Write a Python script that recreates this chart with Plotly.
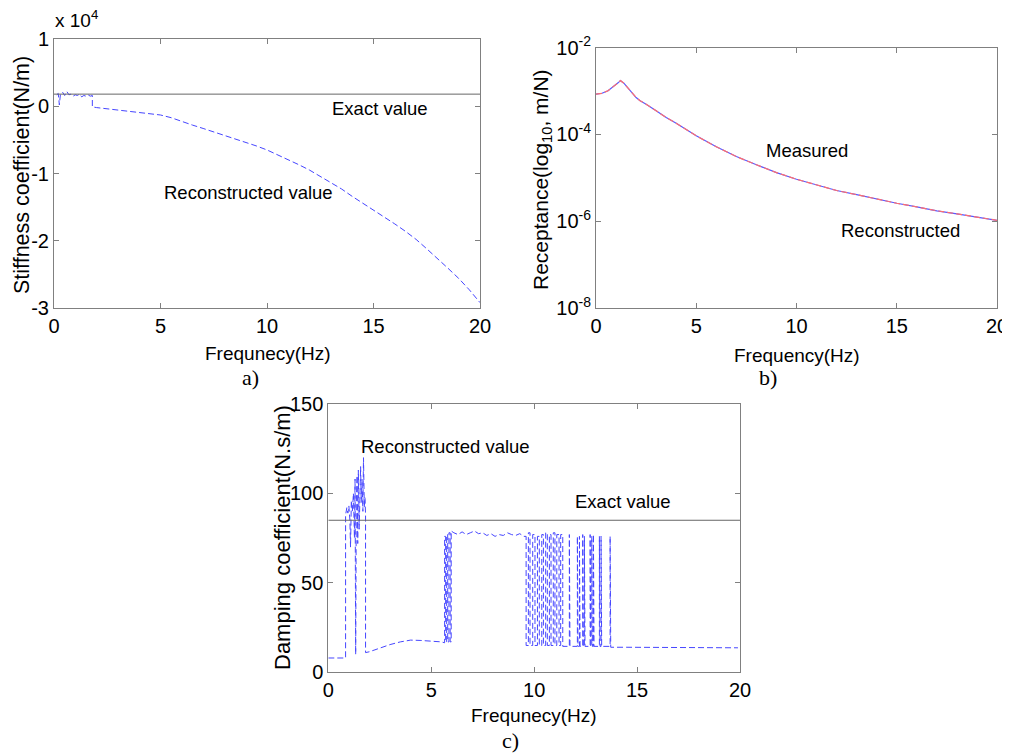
import plotly.graph_objects as go

# ---------------- data: a) stiffness coefficient (x 1e4 N/m) ----------------
stiff_freq = [0.13, 0.2, 0.25, 0.3, 0.4, 0.5, 0.6, 0.7, 0.8, 0.9, 1.0, 1.1, 1.2, 1.3, 1.4,
              1.5, 1.6, 1.7, 1.8, 1.8, 2.0, 2.5, 3.0, 3.5, 4.0, 4.5, 5.0, 5.5, 6.0, 6.5, 7.0,
              7.5, 8.0, 8.5, 9.0, 9.5, 10.0, 10.5, 11.0, 11.5, 12.0, 12.5, 13.0, 13.5, 14.0,
              14.5, 15.0, 15.5, 16.0, 16.5, 17.0, 17.5, 18.0, 18.5, 19.0, 19.5, 20.0]
stiff_recon = [0.17, 0.19, 0.02, 0.17, 0.21, 0.16, 0.22, 0.17, 0.18, 0.15, 0.17, 0.16, 0.18, 0.14, 0.16,
               0.15, 0.17, 0.15, 0.16, -0.01, -0.02, -0.04, -0.06, -0.075, -0.09, -0.11, -0.13, -0.17, -0.23, -0.28, -0.33,
               -0.38, -0.43, -0.48, -0.53, -0.59, -0.65, -0.72, -0.80, -0.87, -0.95, -1.04, -1.13, -1.23, -1.34,
               -1.44, -1.54, -1.64, -1.75, -1.86, -1.98, -2.12, -2.26, -2.41, -2.56, -2.73, -2.92]
stiff_exact = 0.18
stiff_yticks = [1, 0, -1, -2, -3]
stiff_yticktext = ["1", "0", "-1", "-2", "-3"]

# ---------------- data: b) receptance (m/N) ----------------
recept_freq = [0, 0.3, 0.6, 0.9, 1.1, 1.22, 1.4, 1.6, 1.8, 2.0, 2.2, 2.5, 3.0, 3.5, 4.0,
               5, 6, 7, 8, 9, 10, 11, 12, 13, 14, 15, 16, 17, 18, 19, 20]
recept_measured = [8.5e-4, 8.9e-4, 1.02e-3, 1.29e-3, 1.55e-3, 1.74e-3, 1.51e-3, 1.17e-3, 9.1e-4,
                   7.1e-4, 6.0e-4, 5.0e-4, 3.5e-4, 2.45e-4, 1.82e-4, 9.3e-5, 5.2e-5, 3.1e-5, 2.0e-5,
                   1.32e-5, 9.3e-6, 6.8e-6, 5.1e-6, 4.1e-6, 3.2e-6, 2.6e-6, 2.14e-6, 1.74e-6,
                   1.48e-6, 1.26e-6, 1.05e-6]
recept_recon = [8.5e-4, 8.9e-4, 1.02e-3, 1.29e-3, 1.55e-3, 1.74e-3, 1.51e-3, 1.17e-3, 9.1e-4,
                7.1e-4, 6.0e-4, 5.0e-4, 3.5e-4, 2.45e-4, 1.82e-4, 9.3e-5, 5.2e-5, 3.1e-5, 2.0e-5,
                1.32e-5, 9.3e-6, 6.8e-6, 5.1e-6, 4.1e-6, 3.2e-6, 2.6e-6, 2.14e-6, 1.74e-6,
                1.48e-6, 1.26e-6, 1.05e-6]
recept_yticks = [1e-8, 1e-6, 1e-4, 1e-2]
recept_yticktext = ["10<sup>-8</sup>", "10<sup>-6</sup>", "10<sup>-4</sup>", "10<sup>-2</sup>"]

# ---------------- data: c) damping coefficient (N.s/m) ----------------
damp_freq = [0, 0.84, 0.84, 0.9, 0.95, 1.0, 1.05, 1.08, 1.12, 1.17, 1.22, 1.27, 1.30, 1.33, 1.36,
             1.40, 1.43, 1.46, 1.50, 1.53, 1.57, 1.60, 1.64, 1.68, 1.71, 1.75, 1.78, 1.81, 1.81,
             2.0, 2.5, 3.0, 3.5, 4.0, 4.5, 5.0, 5.5, 5.65,
             5.65, 5.70, 5.70, 5.75, 5.75, 5.80, 5.80, 5.86, 5.86, 5.92, 5.92, 5.97, 5.97,
             6.1, 6.3, 6.5, 6.7, 6.9, 7.1, 7.3, 7.5, 7.7, 7.9, 8.1, 8.3, 8.5, 8.7, 8.9, 9.1, 9.3, 9.5,
             9.61, 9.61, 9.72, 9.72, 9.80, 9.80, 9.93, 9.93, 10.04, 10.04, 10.16, 10.16, 10.25, 10.25,
             10.37, 10.37, 10.45, 10.45, 10.56, 10.56, 10.64, 10.64, 10.74, 10.74, 10.82, 10.82,
             10.93, 10.93, 11.01, 11.01, 11.10, 11.10, 11.21, 11.21, 11.29, 11.29, 11.39, 11.39,
             11.71, 11.71, 11.74, 11.74, 12.10, 12.10, 12.13, 12.13, 12.20, 12.20, 12.23, 12.23,
             12.36, 12.36, 12.39, 12.39, 12.44, 12.44, 12.47, 12.47, 12.72, 12.72, 12.75, 12.75,
             12.80, 12.80, 12.83, 12.83, 12.88, 12.88, 12.91, 12.91, 13.17, 13.17, 13.20, 13.20,
             13.25, 13.25, 13.28, 13.28, 13.69, 13.69, 13.72, 13.72,
             14.5, 15.0, 15.5, 16.0, 16.5, 17.0, 17.5, 18.0, 18.5, 19.0, 19.5, 19.9]
damp_recon = [8, 8, 88, 92, 89, 93, 85, 70, 96, 90, 100, 75, 108, 10, 95,
              110, 72, 113, 80, 108, 115, 95, 108, 90, 120, 92, 98, 88, 11,
              11.5, 13.5, 15.5, 17, 18, 17.8, 17.5, 17, 16.5,
              76, 76, 17, 17, 77, 77, 17, 17, 78, 78, 17, 17, 79,
              78, 77, 78.5, 77, 78, 79, 77.5, 78, 76.5, 77.5, 76, 77, 76.5, 78, 77, 76.5, 77.5, 76,
              76, 15, 15, 78, 78, 15, 15, 77, 77, 15, 15, 76, 76, 15,
              15, 77, 77, 15, 15, 78, 78, 15, 15, 77, 77, 15,
              15, 78, 78, 15, 15, 77, 77, 15, 15, 77, 77, 14.5,
              14.5, 77, 77, 14.5, 14.5, 76, 76, 14.5, 14.5, 76, 76, 14.5,
              14.5, 77, 77, 14.5, 14.5, 76, 76, 14.5, 14.5, 77, 77, 14.5,
              14.5, 76, 76, 14.5, 14.5, 77, 77, 14.5, 14.5, 76, 76, 14.5,
              14.5, 76, 76, 14.5, 14.5, 76, 76, 14,
              14, 14, 13.8, 14, 13.7, 14, 13.6, 14, 13.8, 13.6, 13.8, 13.7]
damp_exact = 85
damp_yticks = [0, 50, 100, 150]
damp_yticktext = ["0", "50", "100", "150"]

freq_ticks = [0, 5, 10, 15, 20]
freq_ticktext = ["0", "5", "10", "15", "20"]

# ---------------- styling ----------------
REG = "Liberation Sans, Arial, sans-serif"
SERIF = "Liberation Serif, Times New Roman, serif"
AX = "#808080"
CURVE = "rgb(70,70,255)"
OFF = 8                      # page body margin in the browser
W, H = 1010 - OFF, 753 - OFF


def px(x):
    return (x - OFF) / W


def py(y):
    return 1 - (y - OFF) / H


fig = go.Figure()

# a)
fig.add_trace(go.Scatter(x=stiff_freq, y=stiff_recon, mode="lines",
                         line=dict(color=CURVE, width=1, dash="6px,3px"),
                         xaxis="x", yaxis="y", showlegend=False))
fig.add_trace(go.Scatter(x=[0, 20], y=[stiff_exact, stiff_exact], mode="lines",
                         line=dict(color="#666666", width=1),
                         xaxis="x", yaxis="y", showlegend=False))
# b)
fig.add_trace(go.Scatter(x=recept_freq, y=recept_measured, mode="lines",
                         line=dict(color="rgb(90,90,255)", width=1.2),
                         xaxis="x2", yaxis="y2", showlegend=False))
fig.add_trace(go.Scatter(x=recept_freq, y=recept_recon, mode="lines",
                         line=dict(color="rgb(255,110,110)", width=1.2, dash="6px,3px"),
                         xaxis="x2", yaxis="y2", showlegend=False))
# c)
fig.add_trace(go.Scatter(x=damp_freq, y=damp_recon, mode="lines",
                         line=dict(color=CURVE, width=1, dash="6px,3px"),
                         xaxis="x3", yaxis="y3", showlegend=False))
fig.add_trace(go.Scatter(x=[0, 20], y=[damp_exact, damp_exact], mode="lines",
                         line=dict(color="#666666", width=1),
                         xaxis="x3", yaxis="y3", showlegend=False))

tickfont = dict(family=REG, size=20, color="black")
common = dict(showline=True, mirror="ticks", linecolor=AX, linewidth=1,
              ticks="inside", ticklen=5, tickcolor=AX, showgrid=False,
              zeroline=False, tickfont=tickfont, automargin=False)

fig.update_layout(
    width=W, height=H, autosize=False,
    margin=dict(l=0, r=0, t=0, b=0, pad=0, autoexpand=False),
    paper_bgcolor="white", plot_bgcolor="white",
    xaxis=dict(domain=[px(54), px(480)], range=[0, 20], tickvals=freq_ticks,
               ticktext=freq_ticktext, anchor="y", **common),
    yaxis=dict(domain=[py(308), py(39)], range=[-3, 1], tickvals=stiff_yticks,
               ticktext=stiff_yticktext, anchor="x", **common),
    xaxis2=dict(domain=[px(596), px(997)], range=[0, 20], tickvals=freq_ticks,
                ticktext=freq_ticktext, anchor="y2", **common),
    yaxis2=dict(domain=[py(308), py(47.7)], type="log", range=[-8, -2],
                tickvals=recept_yticks, ticktext=recept_yticktext, anchor="x2", **common),
    xaxis3=dict(domain=[px(328.3), px(740)], range=[0, 20], tickvals=freq_ticks,
                ticktext=freq_ticktext, anchor="y3", **common),
    yaxis3=dict(domain=[py(672.3), py(404)], range=[0, 150], tickvals=damp_yticks,
                ticktext=damp_yticktext, anchor="x3", **common),
)


def ann(text, x, y, size=19, family=REG, angle=0):
    fig.add_annotation(text=text, x=px(x), y=py(y), xref="paper", yref="paper",
                       showarrow=False, textangle=angle, xanchor="center", yanchor="middle",
                       font=dict(family=family, size=size, color="black"))


# axis titles
ann("Frequnecy(Hz)", 268, 353)
ann("Frequency(Hz)", 797, 355)
ann("Frequnecy(Hz)", 534, 715)
ann("Stiffness coefficient(N/m)", 22, 175, size=21.5, angle=-90)
ann("Receptance(log<sub>10</sub>, m/N)", 542, 180, size=21, angle=-90)
ann("Damping coefficient(N.s/m)", 282, 538, size=22, angle=-90)

# panel letters
ann("a)", 250, 377, size=22, family=SERIF)
ann("b)", 768, 378, size=22, family=SERIF)
ann("c)", 510, 740, size=22, family=SERIF)

# exponent
ann("x 10<sup>4</sup>", 76, 19, size=19)

# in-plot labels
ann("Exact value", 380, 108, size=18.5)
ann("Reconstructed value", 248, 192, size=18.5)
ann("Measured", 807, 150, size=18.5)
ann("Reconstructed", 900, 231, size=18.5)
ann("Reconstructed value", 445, 446, size=18.5)
ann("Exact value", 623, 502, size=18.5)

fig.write_html("out.html")
